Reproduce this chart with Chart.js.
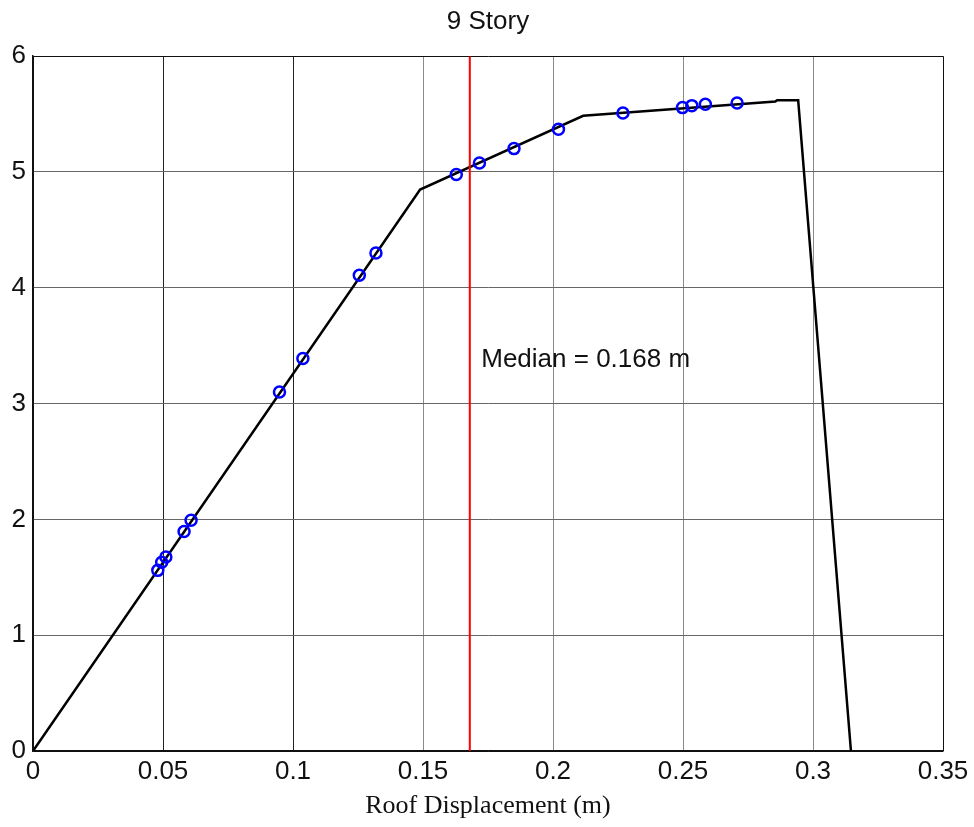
<!DOCTYPE html>
<html>
<head>
<meta charset="utf-8">
<title>9 Story</title>
<script src="https://cdn.jsdelivr.net/npm/chart.js@4.4.1/dist/chart.umd.min.js"></script>
<style>
  html, body { margin: 0; padding: 0; background: #fff; }
  #wrap { width: 974px; height: 827px; position: relative; }
</style>
</head>
<body>
<div id="wrap"><canvas id="pushover"></canvas></div>
<script>
// capacity curve (roof displacement in m, load factor)
const curveX = [0, 0.1489, 0.2116, 0.2855, 0.2862, 0.2943, 0.3146];
const curveY = [0, 4.848, 5.485, 5.608, 5.619, 5.619, 0];

// individual record results along the curve
const recordX = [0.0480, 0.0495, 0.0511, 0.0581, 0.0608, 0.0948, 0.1038, 0.1255, 0.1319,
                 0.1628, 0.1717, 0.1850, 0.2021, 0.2269, 0.2498, 0.2534, 0.2586, 0.2708];
const recordY = [1.56, 1.63, 1.675, 1.895, 1.992, 3.10, 3.389, 4.108, 4.30,
                 4.978, 5.078, 5.202, 5.369, 5.51, 5.556, 5.573, 5.585, 5.596];

const median = 0.168;
const xTicks = [0, 0.05, 0.1, 0.15, 0.2, 0.25, 0.3, 0.35];
const yTicks = [0, 1, 2, 3, 4, 5, 6];

const sans = 'Liberation Sans, Arial, sans-serif';
const serif = 'Liberation Serif, Times New Roman, serif';

const toPoints = (xs, ys) => xs.map((x, i) => ({ x: x, y: ys[i] }));

// text next to the median line
const medianLabel = {
    id: 'medianLabel',
    afterDatasetsDraw(chart) {
        const ctx = chart.ctx;
        const px = chart.scales.x.getPixelForValue(0.1724);
        const py = chart.scales.y.getPixelForValue(3.374);
        ctx.save();
        ctx.font = '26px ' + sans;
        ctx.fillStyle = '#111';
        ctx.textAlign = 'left';
        ctx.textBaseline = 'middle';
        ctx.fillText('Median = ' + median + ' m', px, py);
        ctx.restore();
    }
};

function xGridColour(c) {
    const v = c.tick ? c.tick.value : null;
    if (v === 0 || v === 0.35) return '#111';
    if (v === 0.05 || v === 0.1) return '#222';
    return '#8a8a8a';
}

function yGridColour(c) {
    const v = c.tick ? c.tick.value : null;
    if (v === 0 || v === 6) return '#111';
    return '#666';
}

new Chart(document.getElementById('pushover'), {
    type: 'scatter',
    data: {
        datasets: [
            {
                label: 'curve',
                data: toPoints(curveX, curveY),
                showLine: true,
                borderColor: '#000',
                borderWidth: 2.5,
                pointRadius: 0,
                order: 2
            },
            {
                label: 'median',
                data: [{ x: median, y: 0 }, { x: median, y: 6 }],
                showLine: true,
                borderColor: '#ff0000',
                borderWidth: 2,
                pointRadius: 0,
                order: 1
            },
            {
                label: 'records',
                data: toPoints(recordX, recordY),
                showLine: false,
                pointStyle: 'circle',
                pointRadius: 5.5,
                borderColor: '#0000ff',
                borderWidth: 2.5,
                backgroundColor: 'rgba(0,0,0,0)',
                order: 0
            }
        ]
    },
    options: {
        responsive: true,
        maintainAspectRatio: false,
        animation: false,
        layout: { padding: { left: 0, right: 31, top: 0, bottom: 0 } },
        plugins: {
            legend: { display: false },
            tooltip: { enabled: false },
            title: {
                display: true,
                fullSize: false,
                text: '9 Story',
                color: '#111',
                font: { family: sans, size: 26, weight: 'normal' },
                padding: { top: 6, bottom: 19 }
            }
        },
        scales: {
            x: {
                type: 'linear',
                min: 0,
                max: 0.35,
                afterBuildTicks: s => { s.ticks = xTicks.map(v => ({ value: v })); },
                afterFit: s => { s.height = 76; },
                grid: { color: xGridColour, lineWidth: 1, drawTicks: false },
                border: { display: true, color: '#111', width: 1.5 },
                ticks: {
                    color: '#111',
                    padding: 5,
                    maxRotation: 0,
                    font: { family: sans, size: 26 },
                    callback: v => String(v)
                },
                title: {
                    display: true,
                    text: 'Roof Displacement (m)',
                    color: '#111',
                    font: { family: serif, size: 26 },
                    padding: { top: 0, bottom: 5 }
                }
            },
            y: {
                type: 'linear',
                min: 0,
                max: 6,
                afterBuildTicks: s => { s.ticks = yTicks.map(v => ({ value: v })); },
                afterFit: s => { s.width = 33; },
                grid: { color: yGridColour, lineWidth: 1, drawTicks: false },
                border: { display: true, color: '#111', width: 1.5 },
                ticks: {
                    color: '#111',
                    padding: 7,
                    font: { family: sans, size: 26 },
                    callback: v => String(v)
                }
            }
        }
    },
    plugins: [medianLabel]
});
</script>
</body>
</html>
